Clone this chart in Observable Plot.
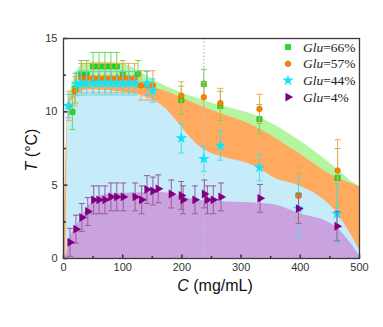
<!DOCTYPE html>
<html><head><meta charset="utf-8">
<script src="https://cdn.jsdelivr.net/npm/d3@7"></script>
<script src="https://cdn.jsdelivr.net/npm/@observablehq/plot@0.6"></script>
<style>body{margin:0;background:#fff;} #chart{position:relative;width:383px;height:327px;}</style>
</head><body><div id="chart"></div>
<script>
// ---- tick labels ----
const xTicks = [0, 100, 200, 300, 400, 500];
const xMinor = [50, 150, 250, 350, 450];
const yTicks = [0, 5, 10, 15];
const yMinor = [2.5, 7.5, 12.5];
const dividerC = [237];

// ---- band (area) upper boundaries ----
const bandGreenC = [1, 8, 20, 35, 60, 100, 125, 165, 250, 333, 389, 462, 485, 500];
const bandGreenT = [0, 10.4, 12.5, 13.3, 13.4, 13.3, 12.8, 11.9, 10.6, 9.6, 8.3, 6.1, 5.3, 4.9];
const bandOrangeC = [1, 8, 20, 35, 110, 130, 165, 237, 333, 389, 462, 500];
const bandOrangeT = [0, 10.4, 11.5, 12.3, 12.3, 11.9, 11.5, 10.3, 8.8, 7.4, 5.5, 4.9];
const bandCyanC = [4, 8, 20, 40, 110, 164, 231, 327, 361, 395, 460, 500];
const bandCyanT = [0, 10.4, 11.0, 11.5, 11.3, 10.5, 7.6, 6.2, 5.4, 5.0, 3.2, 0.6];
const bandPurpleC = [3, 10, 25, 45, 65, 104, 164, 231, 350, 400, 457, 500];
const bandPurpleT = [0, 1.2, 2.4, 3.7, 4.3, 4.45, 4.5, 3.95, 3.7, 3.05, 2.25, 0.2];

// ---- measured points ----
const glu66C = [15, 20, 30, 39, 50, 60, 70, 80, 90, 100, 126, 199, 237, 265, 331, 397, 463];
const glu66T = [10.0, 11.6, 12.6, 12.6, 13.1, 13.1, 13.1, 13.1, 13.1, 12.6, 12.6, 10.8, 11.9, 10.4, 9.5, 4.3, 5.5];
const glu66E = [1.2, 1.0, 0.9, 0.9, 0.95, 0.95, 0.95, 0.95, 0.95, 0.9, 0.9, 0.95, 1.0, 1.0, 1.0, 1.5, 2.0];

const glu57C = [9, 19, 30, 39, 50, 60, 70, 80, 90, 100, 110, 120, 131, 141, 151, 199, 237, 265, 331, 397, 463];
const glu57T = [10.4, 11.4, 12.3, 12.3, 12.3, 12.3, 12.3, 12.3, 12.3, 12.3, 12.3, 12.3, 11.8, 11.8, 11.8, 11.1, 11.0, 10.6, 10.2, 4.3, 6.0];
const glu57E = [1.0, 1.0, 1.0, 1.0, 1.0, 1.0, 1.0, 1.0, 1.0, 1.0, 1.0, 1.0, 1.0, 1.0, 1.0, 0.95, 1.0, 1.0, 1.0, 1.9, 2.1];

const glu44C = [8, 22, 30, 39, 50, 60, 70, 80, 90, 100, 110, 120, 141, 151, 199, 237, 265, 331, 397, 462];
const glu44T = [10.4, 11.9, 11.95, 11.95, 11.95, 11.95, 11.95, 11.95, 11.95, 11.95, 11.95, 11.95, 11.95, 11.45, 8.2, 6.8, 7.7, 6.2, 3.4, 3.05];
const glu44E = [0.8, 0.8, 0.8, 0.8, 0.8, 0.8, 0.8, 0.8, 0.8, 0.8, 0.8, 0.8, 0.8, 0.8, 1.0, 0.85, 1.0, 0.9, 2.0, 2.05];

const glu4C = [11, 21, 31, 41, 51, 60, 70, 80, 90, 101, 121, 132, 141, 151, 160, 182, 199, 202, 222, 238, 243, 253, 266, 332, 397, 462];
const glu4T = [1.1, 2.0, 2.8, 3.2, 4.0, 4.0, 4.0, 4.2, 4.2, 4.2, 4.2, 4.0, 4.7, 4.6, 4.75, 4.4, 4.3, 4.0, 4.0, 4.4, 4.0, 4.0, 4.2, 4.1, 3.4, 2.2];
const glu4E = [0.95, 0.95, 0.95, 0.95, 0.95, 0.95, 0.95, 0.95, 0.95, 0.95, 0.95, 0.95, 0.95, 0.95, 0.95, 0.95, 0.95, 0.95, 0.95, 0.95, 0.95, 0.95, 0.95, 0.95, 1.0, 1.0];

const legendLabels = ["=66%", "=57%", "=44%", "=4%"];

// ---- build tables ----
const zip = (C, T, E) => C.map((c, i) => ({C: c, T: T[i], E: E ? E[i] : 0}));
const bandG = zip(bandGreenC, bandGreenT), bandO = zip(bandOrangeC, bandOrangeT),
      bandCy = zip(bandCyanC, bandCyanT), bandP = zip(bandPurpleC, bandPurpleT);
const series = [
  {data: zip(glu66C, glu66T, glu66E), symbol: "square", r: 2.9, rotate: 0, fill: "#22e022", stroke: "#14a814", bar: "#66dc55"},
  {data: zip(glu57C, glu57T, glu57E), symbol: "circle", r: 2.8, rotate: 0, fill: "#ff8000", stroke: "#d86c00", bar: "#f4a45e"},
  {data: zip(glu44C, glu44T, glu44E), symbol: "star", r: 3.6, rotate: 0, fill: "#12e4f8", stroke: "none", bar: "#48dcec"},
  {data: zip(glu4C, glu4T, glu4E), symbol: "triangle", r: 3.3, rotate: 90, fill: "#800080", stroke: "none", bar: "#9c58a0"}
];

// custom line symbols
const tickUp = {draw(ctx, size) { const l = Math.sqrt(size / Math.PI); ctx.moveTo(0, 0); ctx.lineTo(0, -l); }};
const tickRight = {draw(ctx, size) { const l = Math.sqrt(size / Math.PI); ctx.moveTo(0, 0); ctx.lineTo(l, 0); }};
const capSym = {draw(ctx, size) { const l = Math.sqrt(size / Math.PI); ctx.moveTo(-l, 0); ctx.lineTo(l, 0); }};

const marks = [
  Plot.areaY(bandG, {x: "C", y: "T", fill: "#b4f5a0", curve: "monotone-x"}),
  Plot.areaY(bandO, {x: "C", y: "T", fill: "#ffaa5e", curve: "monotone-x"}),
  Plot.areaY(bandCy, {x: "C", y: "T", fill: "#c6ecfa", curve: "monotone-x"}),
  Plot.areaY(bandP, {x: "C", y: "T", fill: "#c9a2de", curve: "monotone-x"}),
  Plot.ruleX(dividerC, {x: d => d, stroke: "#c4c4c4", strokeWidth: 1.4, strokeDasharray: "1.5,2"})
];
for (const s of series) {
  marks.push(
    Plot.ruleX(s.data, {x: "C", y1: d => d.T - d.E, y2: d => d.T + d.E, stroke: s.bar, strokeWidth: 1}),
    Plot.dot(s.data, {x: "C", y: d => d.T + d.E, symbol: capSym, r: 3, stroke: s.bar, fill: "none", strokeWidth: 1}),
    Plot.dot(s.data, {x: "C", y: d => d.T - d.E, symbol: capSym, r: 3, stroke: s.bar, fill: "none", strokeWidth: 1}),
    Plot.dot(s.data, {x: "C", y: "T", symbol: s.symbol, r: s.r, rotate: s.rotate, fill: s.fill, stroke: s.stroke, strokeWidth: 0.6})
  );
}
marks.push(
  Plot.dot(xTicks, {x: d => d, frameAnchor: "bottom", symbol: tickUp, r: 4, stroke: "#333", fill: "none"}),
  Plot.dot(xMinor, {x: d => d, frameAnchor: "bottom", symbol: tickUp, r: 2.5, stroke: "#333", fill: "none"}),
  Plot.dot(yTicks, {y: d => d, frameAnchor: "left", symbol: tickRight, r: 4, stroke: "#333", fill: "none"}),
  Plot.dot(yMinor, {y: d => d, frameAnchor: "left", symbol: tickRight, r: 2.5, stroke: "#333", fill: "none"}),
  Plot.frame({stroke: "#3a3a3a", strokeWidth: 1.3})
);

const svg = Plot.plot({
  width: 383, height: 327,
  marginLeft: 63, marginRight: 24, marginTop: 38, marginBottom: 69,
  x: {domain: [0, 500], ticks: xTicks, tickSize: 0, tickPadding: 5, label: null},
  y: {domain: [0, 15], ticks: yTicks, tickSize: 0, tickPadding: 6, label: null},
  style: {fontFamily: "Liberation Sans, Arial, sans-serif", fontSize: "11px", color: "#333", background: "white"},
  marks
});
document.getElementById("chart").appendChild(svg);

// axis titles with italic variables
const s = d3.select(svg);
const ty = s.append("text").attr("transform", "translate(37,150) rotate(-90)")
  .attr("text-anchor", "middle").attr("font-family", "Liberation Sans, Arial, sans-serif")
  .attr("font-size", 16).attr("fill", "#111");
ty.append("tspan").attr("font-style", "italic").text("T");
ty.append("tspan").text(" (°C)");
const tx = s.append("text").attr("x", 215).attr("y", 290.5)
  .attr("text-anchor", "middle").attr("font-family", "Liberation Sans, Arial, sans-serif")
  .attr("font-size", 16).attr("fill", "#111");
tx.append("tspan").attr("font-style", "italic").text("C");
tx.append("tspan").text(" (mg/mL)");

// legend (inside plot, top right)
const symMap = {square: d3.symbolSquare, circle: d3.symbolCircle, star: d3.symbolStar, triangle: d3.symbolTriangle};
const lg = s.append("g").attr("transform", "translate(288,47)");
series.forEach((ser, i) => {
  const g = lg.append("g").attr("transform", `translate(0,${i * 16.7})`);
  g.append("path").attr("d", d3.symbol(symMap[ser.symbol], Math.PI * ser.r * ser.r)())
    .attr("transform", `rotate(${ser.rotate})`).attr("fill", ser.fill)
    .attr("stroke", ser.stroke).attr("stroke-width", 0.6);
  const t = g.append("text").attr("x", 15).attr("dy", "0.35em").attr("text-anchor", "start")
    .attr("font-family", "Liberation Serif, Times New Roman, serif").attr("font-size", 13.5).attr("fill", "#222");
  t.append("tspan").attr("font-style", "italic").text("Glu");
  t.append("tspan").text(legendLabels[i]);
});
</script></body></html>
